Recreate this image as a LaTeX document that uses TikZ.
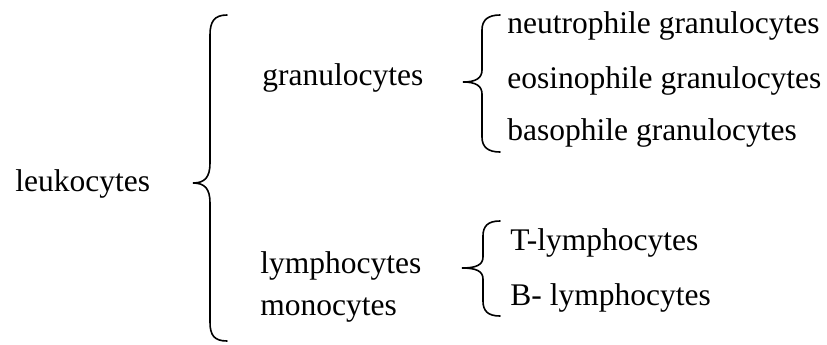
\documentclass[tikz,border=0pt]{standalone}
\usepackage{fontspec}
\setmainfont{Liberation Serif}
\usepackage{tikz}

\begin{document}
\begin{tikzpicture}[x=0.5pt, y=-0.5pt,
		every node/.style={anchor=base west, inner sep=0pt, font=\fontsize{15.75}{18}\selectfont},
		brace/.style={line width=0.8pt, line cap=round}]
		\useasboundingbox (0, 0) rectangle (827, 344);
		
		\node (leuko) at (15, 191) {leukocytes};
		
		\node (granulo) at (262, 85) {granulocytes};
		\node (lympho) at (260, 273) {lymphocytes};
		\node (mono) at (260, 315) {monocytes};
		
		\node (neutro) at (507, 33) {neutrophile granulocytes};
		\node (eosino) at (507, 88) {eosinophile granulocytes};
		\node (baso) at (507, 140) {basophile granulocytes};
		
		\node (tlym) at (510, 250) {T-lymphocytes};
		\node (blym) at (510, 305) {B- lymphocytes};
		
		% big brace
		\draw[brace] (227, 15) .. controls (214, 15) and (210, 22) .. (210, 35) -- (210, 163)
			.. controls (210, 177) and (205, 183) .. (193, 183)
			.. controls (205, 183) and (210, 189) .. (210, 203) -- (210, 322)
			.. controls (210, 335) and (214, 341) .. (227, 341);
		
		% granulocytes brace
		\draw[brace] (500, 15) .. controls (488, 15) and (482, 20) .. (482, 30) -- (482, 70)
			.. controls (482, 78) and (476, 82) .. (463, 82)
			.. controls (476, 82) and (482, 86) .. (482, 94) -- (482, 137)
			.. controls (482, 147) and (488, 152) .. (500, 152);
		
		% lymphocytes brace
		\draw[brace] (500, 221) .. controls (488, 221) and (483, 226) .. (483, 236) -- (483, 257)
			.. controls (483, 265) and (476, 268) .. (462, 268)
			.. controls (476, 268) and (483, 271) .. (483, 279) -- (483, 301)
			.. controls (483, 311) and (488, 316) .. (500, 316);
	\end{tikzpicture}
\end{document}
